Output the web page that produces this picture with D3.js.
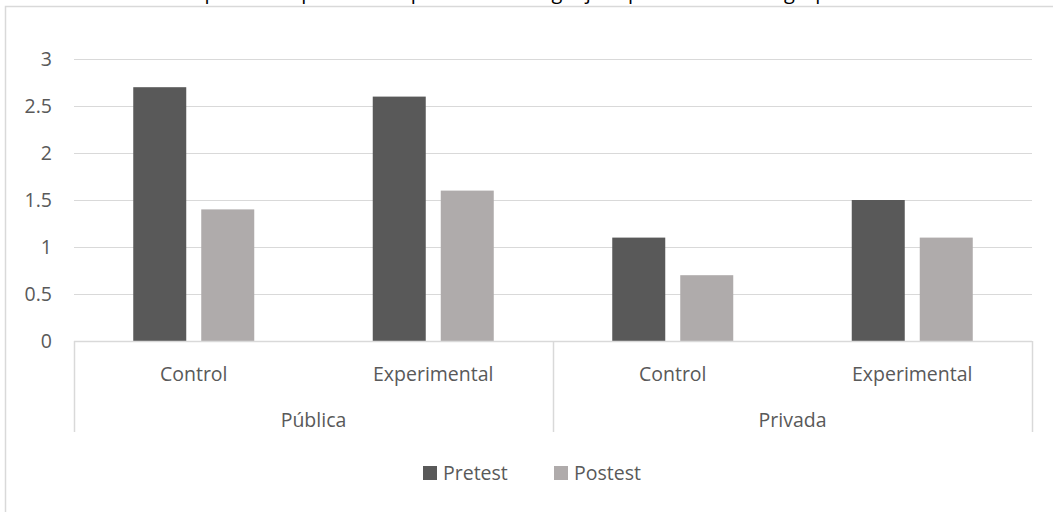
<!DOCTYPE html>
<html><head><meta charset="utf-8">
<script src="https://cdn.jsdelivr.net/npm/d3@7"></script>
<style>body{margin:0;background:#fff}svg{display:block}text{font-family:"Open Sans",sans-serif}</style>
</head><body><svg id="c" width="1053" height="512"></svg>
<script>
const groups = ["Pública", "Privada"];
const categories = ["Control", "Experimental", "Control", "Experimental"];
const categoryGroup = [0, 0, 1, 1];
const seriesNames = ["Pretest", "Postest"];
const pretest = [2.7, 2.6, 1.1, 1.5];
const postest = [1.4, 1.6, 0.7, 1.1];
const yTicks = [0, 0.5, 1, 1.5, 2, 2.5, 3];
const colors = ["#595959", "#afabab"];
const title = "Gráfica 3. Puntuación promedio para el componente de lenguaje espontáneo en los grupos";

const svg = d3.select("#c");
const textColor = "#595959", gridColor = "#d9d9d9";
const fs = 19.5;

svg.append("text").attr("x", 0).attr("y", -1).attr("font-size", 20).attr("fill", "#000").text(title);
svg.append("rect").attr("x", 5.5).attr("y", 6.5).attr("width", 1060).attr("height", 520)
  .attr("fill", "none").attr("stroke", gridColor).attr("stroke-width", 1.5);

const L = 74, R = 1032, T = 59, B = 341;
const x = d3.scaleBand().domain(d3.range(categories.length)).range([L, R]).paddingInner(0).paddingOuter(0);
const y = d3.scaleLinear().domain([0, 3]).range([B, T]);
const barW = 53, gap = 15;

// grid
svg.append("g").selectAll("line").data(yTicks.filter(d => d > 0)).join("line")
  .attr("x1", L).attr("x2", R).attr("y1", d => Math.round(y(d)) + 0.5).attr("y2", d => Math.round(y(d)) + 0.5)
  .attr("stroke", gridColor).attr("stroke-width", 1.2);

// y axis labels via d3 axis
const yAxis = svg.append("g").attr("transform", `translate(${L},0)`)
  .call(d3.axisLeft(y).tickValues(yTicks).tickSize(0).tickPadding(22).tickFormat(d3.format("")));
yAxis.select(".domain").remove();
yAxis.selectAll("text").attr("font-size", fs).attr("fill", textColor).attr("font-family", "Open Sans, sans-serif");

// bars
const series = [pretest, postest];
series.forEach((vals, si) => {
  svg.append("g").selectAll("rect").data(vals).join("rect")
    .attr("x", (d, i) => x(i) + x.bandwidth() / 2 - gap / 2 - barW + si * (barW + gap))
    .attr("width", barW)
    .attr("y", d => y(d))
    .attr("height", d => B - y(d))
    .attr("fill", colors[si]);
});

// category axis
const axisBottom = 432;
svg.append("line").attr("x1", L).attr("x2", R).attr("y1", B + 0.5).attr("y2", B + 0.5).attr("stroke", gridColor).attr("stroke-width", 1.5);
const seps = [L, x(2), R];
svg.append("g").selectAll("line").data(seps).join("line")
  .attr("x1", d => d + 0.5).attr("x2", d => d + 0.5).attr("y1", B).attr("y2", axisBottom)
  .attr("stroke", gridColor).attr("stroke-width", 1.5);

svg.append("g").selectAll("text").data(categories).join("text")
  .attr("x", (d, i) => x(i) + x.bandwidth() / 2).attr("y", 381)
  .attr("text-anchor", "middle").attr("font-size", fs).attr("fill", textColor).text(d => d);

svg.append("g").selectAll("text").data(groups).join("text")
  .attr("x", (d, gi) => {
    const idx = categoryGroup.map((g, i) => g === gi ? i : -1).filter(i => i >= 0);
    return (x(idx[0]) + x(idx[idx.length - 1]) + x.bandwidth()) / 2;
  }).attr("y", 427)
  .attr("text-anchor", "middle").attr("font-size", fs).attr("fill", textColor).text(d => d);

// legend
const legX = [423, 554];
seriesNames.forEach((n, i) => {
  svg.append("rect").attr("x", legX[i]).attr("y", 466).attr("width", 14).attr("height", 14).attr("fill", colors[i]);
  svg.append("text").attr("x", legX[i] + 20).attr("y", 480).attr("font-size", fs).attr("fill", textColor).text(n);
});
</script></body></html>
